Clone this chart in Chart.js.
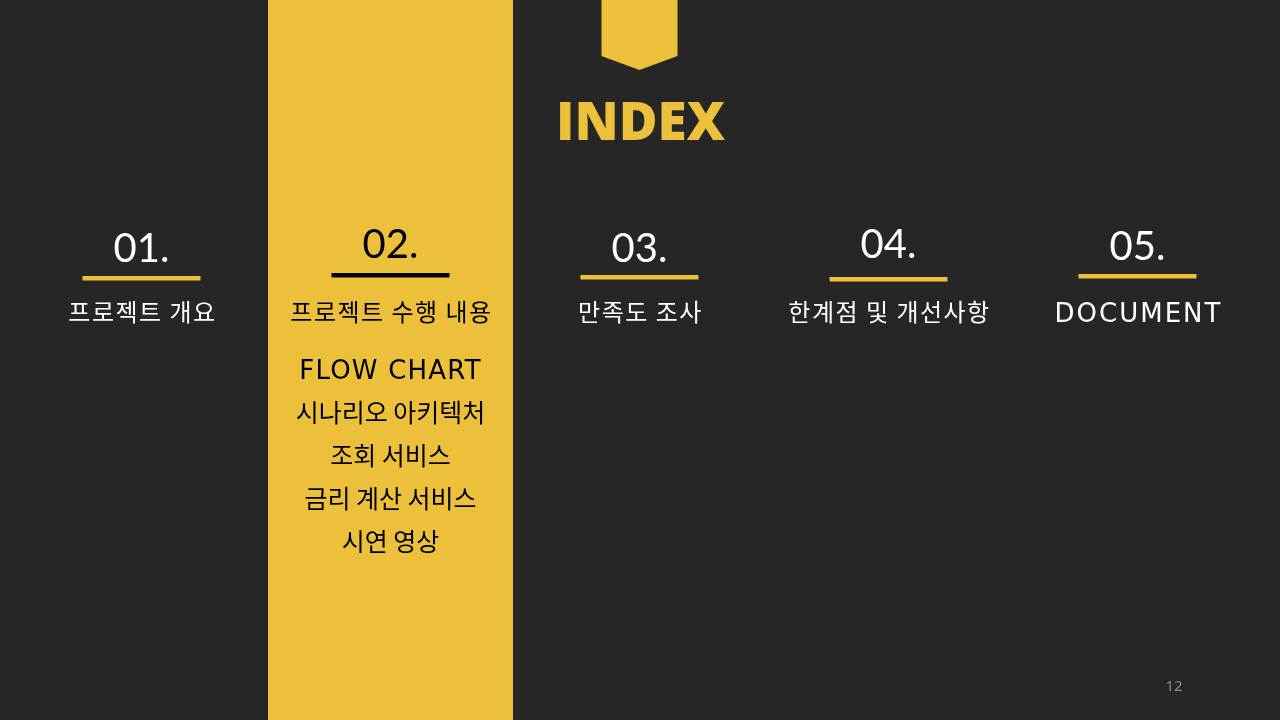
<!DOCTYPE html>
<html>
<head>
<meta charset="utf-8">
<script src="https://cdn.jsdelivr.net/npm/chart.js@4.4.1/dist/chart.umd.min.js"></script>
<style>
    html, body { margin: 0; padding: 0; background: #262626; }
    .slide { position: relative; width: 1280px; height: 720px; }
</style>
</head>
<body>
<div class="slide"><canvas id="slide"></canvas></div>
<script>
    // Slide content
    const sectionNumbers = ['01.', '02.', '03.', '04.', '05.'];
    const sectionTitles = ['프로젝트 개요', '프로젝트 수행 내용', '만족도 조사', '한계점 및 개선사항', 'DOCUMENT'];
    const subItems = ['FLOW CHART', '시나리오 아키텍처', '조회 서비스', '금리 계산 서비스', '시연 영상'];
    const activeSection = 1;  // '02.' is highlighted
    const slideTitle = 'INDEX';
    const pageNumber = '12';

    const YELLOW = '#ecc03a';

    // highlighted column spans the full height of the slide
    const columnSpan = sectionNumbers.map((_, i) => i === activeSection ? [0, 720] : null);

    const isLatin = (s) => /^[A-Za-z\s]+$/.test(s);

    // Draws the ribbon, headings, rules and labels on top of the column
    const slideText = {
        id: 'slideText',
        afterDatasetsDraw(chart) {
            const ctx = chart.ctx;
            const x = chart.scales.x;
            const y = chart.scales.y;
            const cx = (chart.chartArea.left + chart.chartArea.right) / 2;
            ctx.save();

            // ribbon
            ctx.fillStyle = YELLOW;
            ctx.beginPath();
            ctx.moveTo(cx - 38, y.getPixelForValue(0));
            ctx.lineTo(cx + 38, y.getPixelForValue(0));
            ctx.lineTo(cx + 38, y.getPixelForValue(56));
            ctx.lineTo(cx, y.getPixelForValue(70));
            ctx.lineTo(cx - 38, y.getPixelForValue(56));
            ctx.closePath();
            ctx.fill();

            // title
            ctx.textAlign = 'center';
            ctx.textBaseline = 'alphabetic';
            ctx.font = '800 53px "Open Sans"';
            ctx.fillText(slideTitle, cx + 1, y.getPixelForValue(140));

            const numBase = [262, 258, 262, 258, 260];
            const ruleTop = [276, 273, 275, 277, 274];
            sectionNumbers.forEach((num, i) => {
                const px = x.getPixelForValue(i);
                const active = i === activeSection;
                const ink = active ? '#000' : '#fff';

                ctx.fillStyle = ink;
                ctx.textBaseline = 'alphabetic';
                ctx.letterSpacing = '0px';
                ctx.font = '400 40px Lato';
                ctx.fillText(num, px, y.getPixelForValue(numBase[i]));

                ctx.fillStyle = active ? '#000' : YELLOW;
                ctx.fillRect(px - 59, y.getPixelForValue(ruleTop[i]), 118, 4.5);

                ctx.fillStyle = ink;
                ctx.textBaseline = 'middle';
                let ty = 312;
                if (isLatin(sectionTitles[i])) {
                    ctx.font = '400 26px "DejaVu Sans"';
                    ctx.letterSpacing = '2px';
                    ty += 3;
                } else {
                    ctx.font = '400 24px "Noto Sans CJK KR"';
                    ctx.letterSpacing = '1.5px';
                }
                ctx.fillText(sectionTitles[i], px + 1, y.getPixelForValue(ty));
            });

            // sub items of the highlighted section
            const ax = x.getPixelForValue(activeSection);
            ctx.fillStyle = '#000';
            subItems.forEach((item, i) => {
                let ty = 369 + i * 43;
                if (isLatin(item)) {
                    ctx.font = '400 26px "DejaVu Sans"';
                    ctx.letterSpacing = '1.2px';
                    ty += 3;
                } else {
                    ctx.font = '400 25px "Noto Sans CJK KR"';
                    ctx.letterSpacing = '0px';
                }
                ctx.fillText(item, ax, y.getPixelForValue(ty));
            });

            // page number
            ctx.letterSpacing = '0px';
            ctx.fillStyle = '#8a8a8a';
            ctx.font = '400 15px "Noto Sans"';
            ctx.fillText(pageNumber, 1174, y.getPixelForValue(687));

            ctx.restore();
        }
    };

    new Chart(document.getElementById('slide'), {
        type: 'bar',
        data: {
            labels: sectionNumbers,
            datasets: [{
                data: columnSpan,
                backgroundColor: YELLOW,
                borderWidth: 0,
                categoryPercentage: 1,
                barPercentage: 0.984
            }]
        },
        options: {
            responsive: true,
            maintainAspectRatio: false,
            animation: false,
            layout: { padding: { left: 17, right: 18, top: 0, bottom: 0 } },
            plugins: { legend: { display: false }, tooltip: { enabled: false } },
            scales: {
                x: { display: false },
                y: { display: false, min: 0, max: 720, reverse: true }
            }
        },
        plugins: [slideText]
    });
</script>
</body>
</html>
